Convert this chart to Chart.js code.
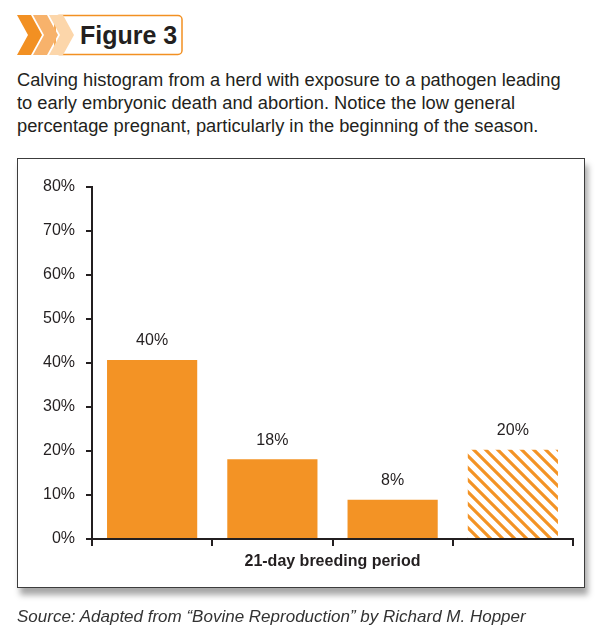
<!DOCTYPE html>
<html lang="en">
<head>
    <meta charset="UTF-8">
    <title>Figure 3</title>
    <script src="https://cdn.jsdelivr.net/npm/chart.js"></script>
    <style>
        body {
            margin: 0;
            background: #fff;
            font-family: "Liberation Sans", Arial, sans-serif;
            color: #231f20;
        }
        #page {
            position: relative;
            width: 610px;
            height: 637px;
            overflow: hidden;
        }
        #badge {
            position: absolute;
            left: 0;
            top: 0;
        }
        #caption {
            position: absolute;
            left: 17px;
            top: 68px;
            font-size: 18.3px;
            line-height: 23px;
            white-space: nowrap;
        }
        #box {
            position: absolute;
            left: 17px;
            top: 158px;
            width: 566px;
            height: 428px;
            border: 1.5px solid #3c3c3c;
            box-shadow: 3px 7px 6px rgba(0, 0, 0, 0.35);
            background: #fff;
        }
        #chart {
            position: absolute;
            left: 0;
            top: 0;
        }
        #source {
            position: absolute;
            left: 17px;
            top: 607px;
            font-size: 17px;
            line-height: 20px;
            font-style: italic;
            color: #333;
            white-space: nowrap;
        }
    </style>
</head>
<body>
<div id="page">
    <svg id="badge" width="200" height="70">
        <rect x="55" y="15.5" width="127" height="39" rx="4" fill="#fff" stroke="#f29022" stroke-width="1.5"/>
        <polygon points="17,15 31,15 42,35 31,55 17,55 28,35" fill="#f29022"/>
        <polygon points="33,15 47,15 58,35 47,55 33,55 44,35" fill="#f7b26b"/>
        <polygon points="49,15 63,15 74,35 63,55 49,55 60,35" fill="#fcd6aa"/>
        <text x="80" y="44" font-family="Liberation Sans, Arial, sans-serif" font-weight="bold" font-size="25" fill="#231f20">Figure 3</text>
    </svg>
    <div id="caption">Calving histogram from a herd with exposure to a pathogen leading<br>to early embryonic death and abortion. Notice the low general<br>percentage pregnant, particularly in the beginning of the season.</div>
    <div id="box"></div>
    <canvas id="chart" width="610" height="637"></canvas>
    <div id="source">Source: Adapted from “Bovine Reproduction” by Richard M. Hopper</div>
</div>

<script>
    // data
    const periods = ['Period 1', 'Period 2', 'Period 3', 'Period 4'];
    const pregnantPct = [40.7, 18.1, 8.9, 20.3];
    const barLabels = ['40%', '18%', '8%', '20%'];
    const yMax = 80;
    const yStep = 10;
    const xTitle = '21-day breeding period';

    const orange = '#f39325';
    const ink = '#231f20';

    const makeHatch = (color) => {
        const size = 12;
        const c = document.createElement('canvas');
        c.width = size;
        c.height = size;
        const g = c.getContext('2d');
        g.strokeStyle = color;
        g.lineWidth = 3.2;
        g.beginPath();
        g.moveTo(-2, -2); g.lineTo(size + 2, size + 2);
        g.moveTo(-size / 2 - 2, size / 2 - 2); g.lineTo(size / 2 + 2, size * 1.5 + 2);
        g.moveTo(size / 2 - 2, -size / 2 - 2); g.lineTo(size * 1.5 + 2, size / 2 + 2);
        g.stroke();
        return g.createPattern(c, 'repeat');
    };

    const hatch = makeHatch(orange);
    const fills = periods.map((_, i) => i === periods.length - 1 ? hatch : orange);

    // labels above the bars
    const valueLabels = {
        id: 'valueLabels',
        afterDatasetsDraw(chart) {
            const ctx = chart.ctx;
            const meta = chart.getDatasetMeta(0);
            ctx.save();
            ctx.font = '16px "Liberation Sans", Arial, sans-serif';
            ctx.fillStyle = ink;
            ctx.textAlign = 'center';
            ctx.textBaseline = 'middle';
            meta.data.forEach((bar, i) => {
                ctx.fillText(barLabels[i], bar.x, bar.y - 19);
            });
            ctx.restore();
        }
    };

    Chart.defaults.font.family = '"Liberation Sans", Arial, sans-serif';
    Chart.defaults.color = ink;

    new Chart(document.getElementById('chart'), {
        type: 'bar',
        data: {
            labels: periods,
            datasets: [{
                data: pregnantPct,
                backgroundColor: fills,
                borderWidth: 0,
                barPercentage: 0.75,
                categoryPercentage: 1
            }]
        },
        options: {
            responsive: false,
            animation: false,
            layout: {
                padding: { left: 22, top: 187, right: 37, bottom: 58 }
            },
            plugins: {
                legend: { display: false },
                tooltip: { enabled: false }
            },
            scales: {
                x: {
                    grid: {
                        offset: true,
                        drawOnChartArea: false,
                        drawTicks: true,
                        tickLength: 7,
                        color: ink,
                        lineWidth: 2
                    },
                    border: { display: true, color: ink, width: 2 },
                    ticks: { display: false },
                    title: {
                        display: true,
                        text: xTitle,
                        font: { size: 16, weight: 'bold' },
                        color: ink,
                        padding: { top: 0, bottom: 8 }
                    },
                    afterFit(scale) { scale.height = 40; }
                },
                y: {
                    min: 0,
                    max: yMax,
                    grid: {
                        drawOnChartArea: false,
                        drawTicks: true,
                        tickLength: 6,
                        color: ink,
                        lineWidth: 2
                    },
                    border: { display: true, color: ink, width: 2 },
                    ticks: {
                        stepSize: yStep,
                        padding: 11,
                        font: { size: 16 },
                        color: ink,
                        callback: v => v + '%'
                    },
                    afterFit(scale) { scale.width = 70; }
                }
            }
        },
        plugins: [valueLabels]
    });
</script>
</body>
</html>
